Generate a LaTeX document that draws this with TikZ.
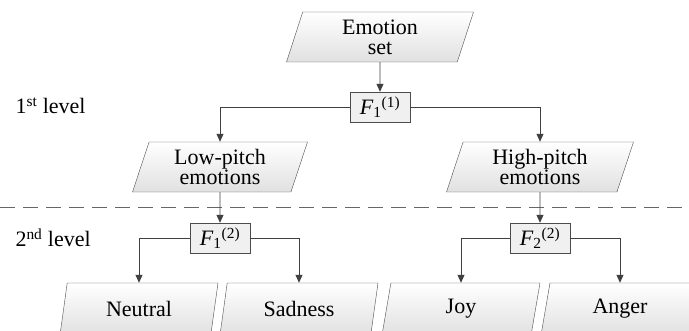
\documentclass[tikz,border=0pt]{standalone}
\usepackage{amsmath}
\usepackage{fontspec}
\setmainfont{Liberation Serif}
\usetikzlibrary{shapes.geometric,arrows.meta,positioning}
\tikzset{
  para/.style = {trapezium, trapezium left angle=65, trapezium right angle=115,
                 trapezium stretches body, draw=black!70, top color=white,
                 bottom color=black!12, align=center, minimum height=50pt, inner sep=0pt},
  fbox/.style = {rectangle, draw=black!70, fill=black!6, minimum width=60pt,
                 minimum height=30pt, inner sep=0pt},
  link/.style = {draw=black!75, line width=0.9pt, -{Triangle[length=8pt,width=7pt]}}
}
\newcommand{\fname}[2]{\textit{F}\textsubscript{#1}\textsuperscript{(#2)}}

\begin{document}
\begin{tikzpicture}[x=1pt,y=-1pt,
    every node/.style={font=\fontsize{22}{20}\selectfont},
    ]
\useasboundingbox (0,0) rectangle (689,331);
\clip (0,0) rectangle (689,331);

% first level
\node [para, minimum width=187pt] (set) at (380,37) {Emotion\\set};
\node [fbox] (f11) at (380,107) {\fname{1}{1}};
\node [para, minimum width=175pt] (low) at (220,167) {Low-pitch\\emotions};
\node [para, minimum width=187pt] (high) at (540,167) {High-pitch\\emotions};
\node [anchor=west] (lev1) at (12,106) {1\textsuperscript{st} level};

\draw [black!60, line width=0.8pt, dash pattern=on 15pt off 8pt] (0,207) -- (689,207);

% second level
\node [fbox] (f12) at (220,238) {\fname{1}{2}};
\node [fbox] (f22) at (540,238) {\fname{2}{2}};
\node [anchor=west] (lev2) at (12,238) {2\textsuperscript{nd} level};
\node [para, minimum width=158pt, minimum height=52pt] (neutral) at (139,309) {Neutral};
\node [para, minimum width=158pt, minimum height=52pt] (sadness) at (299,309) {Sadness};
\node [para, minimum width=158pt, minimum height=52pt] (joy) at (461,309) {Joy};
\node [para, minimum width=158pt, minimum height=52pt] (anger) at (620,309) {Anger};

\draw [link] (set) -- (f11);
\draw [link] (f11.west) -| (low.north);
\draw [link] (f11.east) -| (high.north);
\draw [link] (low) -- (f12);
\draw [link] (high) -- (f22);
\draw [link] (f12.west) -| (neutral.north);
\draw [link] (f12.east) -| (sadness.north);
\draw [link] (f22.west) -| (joy.north);
\draw [link] (f22.east) -| (anger.north);

\end{tikzpicture}
\end{document}
